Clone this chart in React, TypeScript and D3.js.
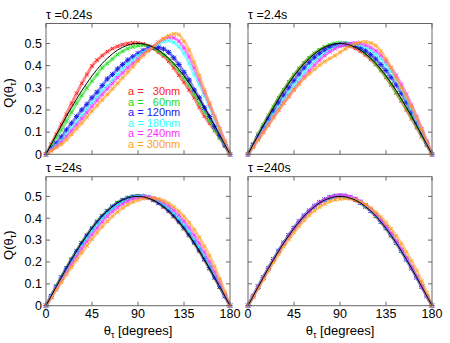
import React from 'react';
import * as d3 from 'd3';

// sampling angles (degrees) for all series
const THETA = [0, 5, 10, 15, 20, 25, 30, 35, 40, 45, 50, 55, 60, 65, 70, 75, 80, 85, 90,
  95, 100, 105, 110, 115, 120, 125, 130, 135, 140, 145, 150, 155, 160, 165, 170, 175, 180];

// black reference curve
const THEORY = [0, .044, .087, .129, .171, .211, .25, .287, .321, .354, .383, .41, .433, .453, .47, .483, .492, .498, .5,
  .498, .492, .483, .47, .453, .433, .41, .383, .354, .321, .287, .25, .211, .171, .129, .087, .044, 0];

const SIZES = ['30nm', '60nm', '120nm', '180nm', '240nm', '300nm'];
const COLORS = ['#ff2020', '#22dd22', '#2020ee', '#30ffff', '#ff30ff', '#ffa020'];
const MARKERS = ['x', 'x', '*', 'x', 'x', 'x'];
const TITLES = ['τ =0.24s', 'τ =2.4s', 'τ =24s', 'τ =240s'];
const X_TICKS = [0, 45, 90, 135, 180];
const Y_TICKS = [0, 0.1, 0.2, 0.3, 0.4, 0.5];

// tau = 0.24 s
const red024 = [0, .045, .09, .135, .18, .23, .275, .32, .36, .398, .425, .445, .463, .477, .487, .495, .5, .503, .502,
  .498, .49, .477, .46, .443, .42, .39, .357, .325, .29, .255, .212, .172, .14, .108, .074, .038, 0];
const green024 = [0, .04, .075, .11, .15, .19, .23, .265, .3, .33, .36, .39, .41, .43, .45, .465, .477, .485, .49,
  .492, .49, .48, .465, .45, .43, .405, .375, .345, .31, .27, .23, .19, .15, .11, .075, .038, 0];
const blue024 = [0, .025, .05, .078, .11, .14, .17, .2, .225, .255, .28, .31, .34, .36, .385, .405, .425, .44, .455,
  .468, .477, .482, .482, .475, .46, .435, .405, .37, .335, .29, .255, .21, .17, .125, .085, .043, 0];
const cyan024 = [0, .02, .04, .062, .09, .118, .147, .175, .205, .232, .258, .285, .31, .335, .36, .385, .405, .425, .445,
  .46, .472, .485, .498, .508, .512, .505, .485, .455, .41, .36, .315, .265, .215, .16, .105, .052, 0];
const magenta024 = [0, .018, .035, .055, .08, .105, .132, .16, .188, .216, .243, .27, .295, .32, .345, .367, .39, .41, .43,
  .452, .47, .487, .505, .52, .528, .525, .51, .48, .44, .39, .335, .28, .225, .17, .115, .058, 0];
const orange024 = [0, .015, .03, .045, .065, .09, .115, .14, .167, .195, .22, .245, .27, .295, .32, .345, .37, .395, .42,
  .445, .465, .485, .505, .522, .535, .543, .54, .51, .47, .415, .355, .29, .23, .17, .115, .058, 0];

// tau = 2.4 s
const red24 = [0, .045, .09, .132, .175, .215, .255, .29, .325, .357, .386, .412, .435, .455, .47, .482, .49, .494, .494,
  .493, .487, .478, .465, .448, .428, .405, .378, .347, .313, .277, .24, .2, .16, .12, .08, .04, 0];
const green24 = [0, .045, .09, .133, .175, .215, .255, .292, .327, .358, .387, .413, .436, .456, .472, .485, .495, .501, .503,
  .502, .497, .487, .473, .455, .433, .408, .38, .35, .317, .28, .245, .207, .167, .127, .085, .043, 0];
const blue24 = [0, .04, .08, .12, .158, .195, .232, .267, .3, .332, .362, .39, .415, .437, .455, .47, .482, .49, .495,
  .497, .495, .49, .48, .467, .45, .43, .405, .378, .347, .313, .275, .235, .19, .145, .098, .05, 0];
const cyan24 = [0, .037, .073, .11, .145, .18, .213, .246, .278, .31, .34, .368, .395, .418, .438, .455, .47, .482, .49,
  .496, .498, .497, .492, .483, .47, .452, .43, .403, .372, .337, .297, .253, .205, .155, .105, .053, 0];
const magenta24 = [0, .035, .068, .102, .135, .168, .2, .232, .263, .293, .322, .35, .377, .402, .425, .445, .462, .476, .487,
  .495, .5, .502, .5, .493, .482, .467, .447, .42, .39, .355, .315, .27, .222, .17, .115, .058, 0];
const orange24 = [0, .032, .064, .097, .13, .165, .198, .23, .26, .29, .317, .342, .363, .383, .402, .418, .432, .445, .46,
  .475, .488, .498, .505, .507, .502, .49, .465, .43, .39, .345, .3, .26, .215, .165, .112, .057, 0];

// tau = 24 s
const red240 = [0, .044, .088, .13, .172, .212, .251, .288, .322, .355, .384, .411, .434, .454, .471, .484, .493, .499, .501,
  .499, .492, .482, .468, .451, .431, .407, .381, .352, .32, .285, .248, .209, .169, .127, .085, .043, 0];
const green240 = [0, .045, .089, .131, .173, .213, .252, .289, .323, .356, .385, .412, .435, .455, .472, .485, .494, .5, .502,
  .5, .494, .484, .471, .454, .434, .411, .384, .355, .323, .288, .251, .212, .171, .129, .087, .044, 0];
const blue240 = [0, .043, .086, .128, .169, .209, .247, .284, .318, .35, .38, .407, .43, .45, .467, .481, .491, .497, .5,
  .5, .495, .486, .473, .457, .437, .414, .388, .359, .327, .292, .255, .215, .174, .131, .088, .044, 0];
const cyan240 = [0, .041, .082, .122, .161, .2, .238, .274, .308, .34, .37, .398, .422, .443, .461, .476, .487, .495, .499,
  .501, .498, .491, .48, .465, .447, .425, .4, .372, .341, .307, .27, .23, .188, .143, .097, .049, 0];
const magenta240 = [0, .039, .077, .115, .152, .189, .225, .26, .293, .325, .355, .383, .408, .43, .449, .465, .478, .488, .494,
  .497, .497, .493, .485, .473, .457, .437, .414, .387, .357, .323, .286, .245, .201, .155, .105, .053, 0];
const orange240 = [0, .036, .072, .107, .142, .176, .209, .242, .274, .305, .334, .361, .386, .409, .429, .447, .462, .474, .483,
  .489, .492, .492, .488, .48, .468, .452, .432, .408, .38, .348, .312, .272, .228, .178, .123, .063, 0];

// tau = 240 s
const red2400 = [0, .044, .087, .13, .171, .212, .25, .287, .322, .354, .384, .41, .434, .453, .47, .483, .493, .498, .5,
  .498, .492, .482, .469, .452, .432, .409, .382, .353, .32, .286, .249, .21, .17, .128, .086, .043, 0];
const green2400 = [0, .045, .088, .131, .173, .213, .252, .289, .323, .356, .385, .412, .435, .455, .472, .485, .494, .5, .502,
  .5, .494, .485, .472, .455, .435, .412, .385, .356, .323, .289, .252, .213, .173, .131, .088, .045, 0];
const blue2400 = [0, .044, .087, .129, .171, .211, .25, .287, .321, .354, .384, .411, .434, .455, .472, .485, .495, .501, .503,
  .501, .495, .486, .473, .456, .436, .413, .386, .357, .324, .289, .252, .213, .172, .13, .087, .044, 0];
const cyan2400 = [0, .044, .087, .129, .17, .21, .249, .286, .32, .353, .383, .41, .434, .454, .471, .485, .494, .5, .502,
  .501, .495, .486, .473, .456, .436, .413, .387, .358, .325, .29, .253, .214, .173, .131, .088, .044, 0];
const magenta2400 = [0, .043, .086, .128, .169, .209, .248, .285, .32, .353, .383, .41, .434, .455, .472, .486, .496, .502, .505,
  .504, .499, .49, .477, .461, .441, .418, .392, .363, .331, .296, .259, .219, .177, .134, .09, .045, 0];
const orange2400 = [0, .04, .08, .12, .16, .198, .235, .27, .303, .335, .364, .39, .414, .434, .451, .465, .476, .484, .488,
  .49, .489, .484, .475, .463, .447, .428, .406, .38, .351, .319, .284, .246, .205, .161, .112, .058, 0];

const PANELS = [
  { series: [red024, green024, blue024, cyan024, magenta024, orange024], col: 0, row: 0 },
  { series: [red24, green24, blue24, cyan24, magenta24, orange24], col: 1, row: 0 },
  { series: [red240, green240, blue240, cyan240, magenta240, orange240], col: 0, row: 1 },
  { series: [red2400, green2400, blue2400, cyan2400, magenta2400, orange2400], col: 1, row: 1 },
];

const FONT = 'Liberation Sans, Arial, Helvetica, sans-serif';
const COLS = [[46, 230], [248, 432]];
const ROWS = [[23.5, 154.3], [176.7, 305.7]];
const TICK = 4;

function markerPath(cx: number, cy: number, kind: string) {
  const s = kind === '*' ? 2.2 : 1.8;
  let d = `M${cx - s},${cy - s}L${cx + s},${cy + s}M${cx - s},${cy + s}L${cx + s},${cy - s}`;
  if (kind === '*') d += `M${cx - s - 0.5},${cy}L${cx + s + 0.5},${cy}M${cx},${cy - s - 0.5}L${cx},${cy + s + 0.5}`;
  return d;
}

function Panel({ idx }: { idx: number }) {
  const p = PANELS[idx];
  const [x0, x1] = COLS[p.col];
  const [y0, y1] = ROWS[p.row];
  const x = d3.scaleLinear().domain([0, 180]).range([x0, x1]);
  const y = d3.scaleLinear().domain([0, 0.59]).range([y1, y0]);
  const line = d3.line<number>().x((_, i) => x(THETA[i])).y(d => y(d)).curve(d3.curveNatural);
  const axisColor = '#666';

  return (
    <g>
      <text x={x0} y={y0 - 4.5} fontSize={12.5} fontFamily={FONT} fill="#000">{TITLES[idx]}</text>
      {p.series.map((vals, si) => (
        <g key={si} stroke={COLORS[si]} strokeWidth={1} fill="none">
          <path d={line(vals) || ''} strokeWidth={3} strokeOpacity={0.55} />
          {vals.map((v, i) => (
            <path key={i} d={markerPath(x(THETA[i]), y(v), MARKERS[si])} />
          ))}
        </g>
      ))}
      <path d={line(THEORY) || ''} stroke="#000" strokeWidth={1} fill="none" />
      <rect x={x0} y={y0} width={x1 - x0} height={y1 - y0} fill="none" stroke={axisColor} strokeWidth={1} />
      {X_TICKS.map(t => (
        <g key={'x' + t} stroke={axisColor}>
          <line x1={x(t)} x2={x(t)} y1={y1} y2={y1 - TICK} />
          <line x1={x(t)} x2={x(t)} y1={y0} y2={y0 + TICK} />
        </g>
      ))}
      {Y_TICKS.map(t => (
        <g key={'y' + t} stroke={axisColor}>
          <line x1={x0} x2={x0 + TICK} y1={y(t)} y2={y(t)} />
          <line x1={x1} x2={x1 - TICK} y1={y(t)} y2={y(t)} />
        </g>
      ))}
      {p.row === 1 && X_TICKS.map(t => (
        <text key={'xl' + t} x={x(t)} y={y1 + 12.5} textAnchor="middle" fontSize={12.5} fontFamily={FONT}>{t}</text>
      ))}
      {p.col === 0 && Y_TICKS.map(t => (
        <text key={'yl' + t} x={x0 - 4} y={y(t) + 4.3} textAnchor="end" fontSize={12.5} fontFamily={FONT}>{t === 0 ? '0' : d3.format('.1f')(t)}</text>
      ))}
      {p.col === 0 && (
        <text transform={`translate(13,${(y0 + y1) / 2 + 4}) rotate(-90)`} textAnchor="middle" fontSize={13} fontFamily={FONT}>
          Q(θ<tspan fontSize={9} dy={3}>τ</tspan><tspan dy={-3}>)</tspan>
        </text>
      )}
      {p.row === 1 && (
        <text x={(x0 + x1) / 2} y={335} textAnchor="middle" fontSize={13} fontFamily={FONT}>
          θ<tspan fontSize={9} dy={3}>τ</tspan><tspan dy={-3}> [degrees]</tspan>
        </text>
      )}
      {idx === 0 && SIZES.map((s, i) => (
        <text key={s} x={128} y={95 + i * 10.6} fontSize={11} fontFamily={FONT} fill={COLORS[i]} style={{ whiteSpace: 'pre' }}>
          {'a = ' + (s.length < 5 ? '  ' : '') + s}
        </text>
      ))}
    </g>
  );
}

export default function App() {
  return (
    <svg width={450} height={343} style={{ position: 'absolute', left: 0, top: 0, background: '#fff' }}>
      {PANELS.map((_, i) => <Panel key={i} idx={i} />)}
    </svg>
  );
}
